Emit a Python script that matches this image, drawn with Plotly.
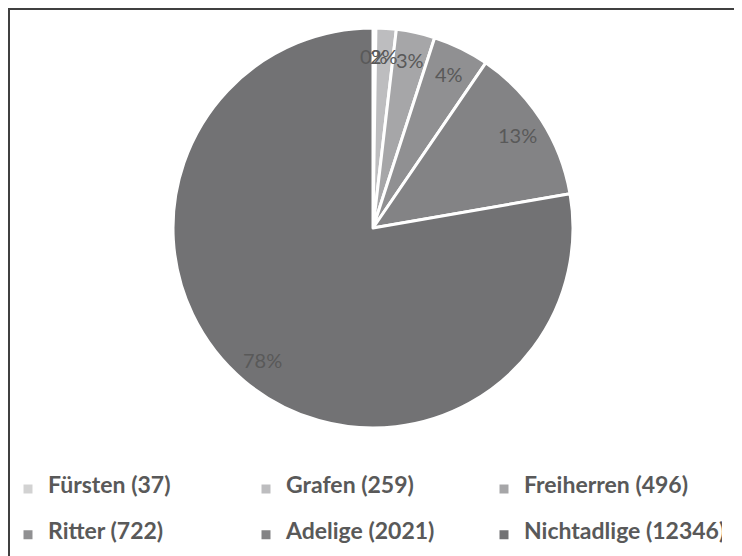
import math
import plotly.graph_objects as go

categories = ["Fürsten", "Grafen", "Freiherren", "Ritter", "Adelige", "Nichtadlige"]
counts = [37, 259, 496, 722, 2021, 12346]
percent_labels = ["0%", "2%", "3%", "4%", "13%", "78%"]
colors = ["#d2d2d2", "#bdbdbf", "#a6a6a8", "#909092", "#838385", "#727274"]

# page has an 8px body margin; figure is a bit taller than the visible window
# so the legend never has to push the plot margins
W, H = 734, 572
cx, cy, r = 365, 220, 200
label_radius = 0.86

legend_names = [
    f"<br><span style='font-size:23px'><b>{c} ({n})</b></span><br>"
    for c, n in zip(categories, counts)
]

fig = go.Figure(go.Pie(
    labels=legend_names,
    values=counts,
    textinfo="none",
    sort=False,
    direction="clockwise",
    rotation=0,
    marker=dict(colors=colors, line=dict(color="white", width=3)),
    domain=dict(x=[(cx - r) / W, (cx + r) / W], y=[1 - (cy + r) / H, 1 - (cy - r) / H]),
    hovertext=[f"{c} ({n})" for c, n in zip(categories, counts)],
    hoverinfo="text+percent",
))

# percentage labels placed at each slice's mid-angle
total = sum(counts)
annotations = []
cum = 0
for n, lab in zip(counts, percent_labels):
    mid = (cum + n / 2) / total * 2 * math.pi
    cum += n
    px = cx + label_radius * r * math.sin(mid)
    py = cy - label_radius * r * math.cos(mid)
    annotations.append(dict(
        x=px / W, y=1 - py / H, xref="paper", yref="paper",
        text=lab, showarrow=False, xanchor="center", yanchor="middle",
        font=dict(family="Lato", size=20, color="#595959"),
    ))

fig.update_layout(
    width=W, height=H,
    margin=dict(l=0, r=0, t=0, b=0),
    paper_bgcolor="white",
    showlegend=True,
    annotations=annotations,
    legend=dict(
        orientation="h",
        x=0, xanchor="left",
        y=1 - 453 / H, yanchor="top",
        entrywidth=193, entrywidthmode="pixels",
        font=dict(family="Lato", size=11, color="#595959"),
        itemwidth=30,
        bgcolor="rgba(0,0,0,0)",
    ),
    shapes=[
        dict(type="line", xref="paper", yref="paper", x0=0, x1=1, y0=1 - 1 / H, y1=1 - 1 / H,
             line=dict(color="#404040", width=2)),
        dict(type="line", xref="paper", yref="paper", x0=1 / W, x1=1 / W, y0=0, y1=1,
             line=dict(color="#404040", width=2)),
    ],
)

fig.write_html("out.html")
